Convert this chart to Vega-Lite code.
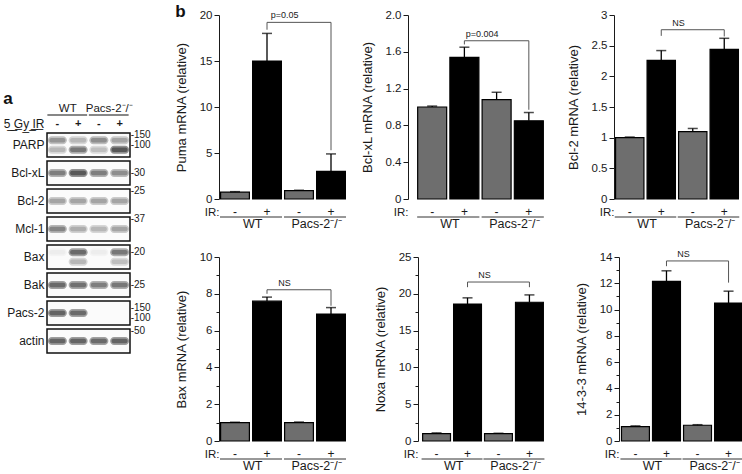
{
  "$schema": "https://vega.github.io/schema/vega-lite/v6.json",
  "padding": {"left": 3, "right": 3, "top": 3, "bottom": 3},
  "spacing": 24,
  "hconcat": [
    {
      "spacing": 0,
      "vconcat": [
        {
          "width": 60, "height": 75,
          "data": {"values": [{}]},
          "mark": {"type": "text"},
          "encoding": {"text": {"value": ""}}
        },
        {
          "width": 83, "height": 252,
          "title": {"text": "a", "anchor": "start", "frame": "bounds", "fontSize": 17, "fontWeight": "bold", "offset": -5, "color": "#111"},
          "layer": [
            {
              "data": {"values": [
                {"protein": "PARP"}, {"protein": "Bcl-xL"}, {"protein": "Bcl-2"}, {"protein": "Mcl-1"},
                {"protein": "Bax"}, {"protein": "Bak"}, {"protein": "Pacs-2"}, {"protein": "actin"}
              ]},
              "mark": {"type": "rect", "fill": "#fbfbfb", "stroke": "#111", "strokeWidth": 1.5},
              "encoding": {
                "y": {"field": "protein", "type": "nominal",
                  "scale": {"domain": ["hdr", "PARP", "Bcl-xL", "Bcl-2", "Mcl-1", "Bax", "Bak", "Pacs-2", "actin"], "paddingInner": 0.14, "paddingOuter": 0.07},
                  "axis": {"title": null, "domain": false, "ticks": false, "labelPadding": 3, "labelFontSize": 12,
                    "labelExpr": "datum.value == 'hdr' ? '5\u0332 \u0332G\u0332y\u0332 \u0332I\u0332R\u0332' : datum.value",
                    "labelOffset": {"condition": {"test": "datum.value == 'hdr'", "value": 7}, "value": 0}}}
              }
            },
            {
              "data": {"values": [
                {"protein": "PARP", "lane": "WT -", "pos": "upper", "level": 0.55},
                {"protein": "PARP", "lane": "WT +", "pos": "upper", "level": 0.35},
                {"protein": "PARP", "lane": "Pacs-2 -", "pos": "upper", "level": 0.6},
                {"protein": "PARP", "lane": "Pacs-2 +", "pos": "upper", "level": 0.45},
                {"protein": "PARP", "lane": "WT -", "pos": "lower", "level": 0.35},
                {"protein": "PARP", "lane": "WT +", "pos": "lower", "level": 0.75},
                {"protein": "PARP", "lane": "Pacs-2 -", "pos": "lower", "level": 0.3},
                {"protein": "PARP", "lane": "Pacs-2 +", "pos": "lower", "level": 1.0},
                {"protein": "Bcl-xL", "lane": "WT -", "pos": "single", "level": 0.7},
                {"protein": "Bcl-xL", "lane": "WT +", "pos": "single", "level": 1.0},
                {"protein": "Bcl-xL", "lane": "Pacs-2 -", "pos": "single", "level": 0.7},
                {"protein": "Bcl-xL", "lane": "Pacs-2 +", "pos": "single", "level": 0.6},
                {"protein": "Bcl-2", "lane": "WT -", "pos": "single", "level": 0.45},
                {"protein": "Bcl-2", "lane": "WT +", "pos": "single", "level": 0.45},
                {"protein": "Bcl-2", "lane": "Pacs-2 -", "pos": "single", "level": 0.45},
                {"protein": "Bcl-2", "lane": "Pacs-2 +", "pos": "single", "level": 0.45},
                {"protein": "Mcl-1", "lane": "WT -", "pos": "single", "level": 0.65},
                {"protein": "Mcl-1", "lane": "WT +", "pos": "single", "level": 0.4},
                {"protein": "Mcl-1", "lane": "Pacs-2 -", "pos": "single", "level": 0.35},
                {"protein": "Mcl-1", "lane": "Pacs-2 +", "pos": "single", "level": 0.45},
                {"protein": "Bax", "lane": "WT -", "pos": "upper", "level": 0.06},
                {"protein": "Bax", "lane": "WT +", "pos": "upper", "level": 0.85},
                {"protein": "Bax", "lane": "Pacs-2 -", "pos": "upper", "level": 0.06},
                {"protein": "Bax", "lane": "Pacs-2 +", "pos": "upper", "level": 0.75},
                {"protein": "Bax", "lane": "WT +", "pos": "lower", "level": 0.35},
                {"protein": "Bax", "lane": "Pacs-2 +", "pos": "lower", "level": 0.3},
                {"protein": "Bak", "lane": "WT -", "pos": "single", "level": 0.85},
                {"protein": "Bak", "lane": "WT +", "pos": "single", "level": 0.8},
                {"protein": "Bak", "lane": "Pacs-2 -", "pos": "single", "level": 0.7},
                {"protein": "Bak", "lane": "Pacs-2 +", "pos": "single", "level": 0.75},
                {"protein": "Pacs-2", "lane": "WT -", "pos": "single", "level": 0.9},
                {"protein": "Pacs-2", "lane": "WT +", "pos": "single", "level": 0.85},
                {"protein": "actin", "lane": "WT -", "pos": "single", "level": 0.9},
                {"protein": "actin", "lane": "WT +", "pos": "single", "level": 0.9},
                {"protein": "actin", "lane": "Pacs-2 -", "pos": "single", "level": 0.85},
                {"protein": "actin", "lane": "Pacs-2 +", "pos": "single", "level": 0.9}
              ]},
              "layer": [
                {
                  "mark": {"type": "rect", "width": 19, "height": 8, "cornerRadius": 4, "fill": "#111"},
                  "encoding": {
                    "x": {"field": "lane", "type": "nominal", "scale": {"domain": ["WT -", "WT +", "Pacs-2 -", "Pacs-2 +"], "paddingInner": 0, "paddingOuter": 0}, "axis": null},
                    "y": {"field": "protein", "type": "nominal"},
                    "yOffset": {"field": "pos", "type": "nominal", "scale": {"domain": ["top", "upper", "single", "lower", "bottom"], "paddingInner": 0, "paddingOuter": 0}},
                    "opacity": {"field": "level", "type": "quantitative", "scale": {"domain": [0, 1], "range": [0, 0.45]}, "legend": null}
                  }
                },
                {
                  "mark": {"type": "rect", "width": 16, "height": 4.5, "cornerRadius": 2, "fill": "#111"},
                  "encoding": {
                    "x": {"field": "lane", "type": "nominal", "axis": null},
                    "y": {"field": "protein", "type": "nominal"},
                    "yOffset": {"field": "pos", "type": "nominal"},
                    "opacity": {"field": "level", "type": "quantitative", "scale": {"domain": [0, 1], "range": [0, 1]}, "legend": null}
                  }
                }
              ]
            },
            {
              "data": {"values": [
                {"protein": "PARP", "pos": "top", "mw": "-150"},
                {"protein": "PARP", "pos": "single", "mw": "-100"},
                {"protein": "Bcl-xL", "pos": "single", "mw": "-30"},
                {"protein": "Bcl-2", "pos": "top", "mw": "-25"},
                {"protein": "Mcl-1", "pos": "top", "mw": "-37"},
                {"protein": "Bax", "pos": "upper", "mw": "-20"},
                {"protein": "Bak", "pos": "single", "mw": "-25"},
                {"protein": "Pacs-2", "pos": "upper", "mw": "-150"},
                {"protein": "Pacs-2", "pos": "lower", "mw": "-100"},
                {"protein": "actin", "pos": "top", "mw": "-50"}
              ]},
              "mark": {"type": "text", "align": "left", "dx": 11, "fontSize": 10},
              "encoding": {
                "x": {"datum": "Pacs-2 +", "type": "nominal", "axis": null},
                "y": {"field": "protein", "type": "nominal"},
                "yOffset": {"field": "pos", "type": "nominal"},
                "text": {"field": "mw"}
              }
            },
            {
              "data": {"values": [{"lane": "WT +", "label": "WT"}, {"lane": "Pacs-2 +", "label": "Pacs-2⁻/⁻"}]},
              "mark": {"type": "text", "dy": -8, "fontSize": 11.5},
              "encoding": {
                "x": {"field": "lane", "type": "nominal", "bandPosition": 0, "axis": null},
                "y": {"datum": "hdr", "type": "nominal"},
                "text": {"field": "label"}
              }
            },
            {
              "data": {"values": [{"lane": "WT -", "lane2": "WT +"}, {"lane": "Pacs-2 -", "lane2": "Pacs-2 +"}]},
              "mark": {"type": "rule", "color": "#111", "strokeWidth": 1.2, "yOffset": -2, "xOffset": -10, "x2Offset": 9},
              "encoding": {
                "x": {"field": "lane", "type": "nominal", "axis": null},
                "x2": {"field": "lane2"},
                "y": {"datum": "hdr", "type": "nominal"}
              }
            },
            {
              "data": {"values": [{"lane": "WT -", "sign": "-"}, {"lane": "WT +", "sign": "+"}, {"lane": "Pacs-2 -", "sign": "-"}, {"lane": "Pacs-2 +", "sign": "+"}]},
              "mark": {"type": "text", "dy": 7, "fontSize": 11, "fontWeight": "bold"},
              "encoding": {
                "x": {"field": "lane", "type": "nominal", "axis": null},
                "y": {"datum": "hdr", "type": "nominal"},
                "text": {"field": "sign"}
              }
            }
          ]
        }
      ]
    },
    {
      "spacing": 18,
      "vconcat": [
        {
          "spacing": 14,
          "hconcat": [
            {
              "width": 128, "height": 184,
              "title": {"text": "b", "anchor": "start", "frame": "bounds", "fontSize": 17, "fontWeight": "bold", "offset": -12, "color": "#111"},
              "resolve": {"axis": {"x": "independent", "y": "independent"}},
              "data": {"values": [
                {"cond": "WT -", "ir": "-", "value": 0.75, "upper": 0.8},
                {"cond": "WT +", "ir": "+", "value": 15.0, "upper": 18.0},
                {"cond": "Pacs-2 -", "ir": "-", "value": 0.9, "upper": 0.95},
                {"cond": "Pacs-2 +", "ir": "+", "value": 3.0, "upper": 4.9}
              ]},
              "layer": [
                {"mark": {"type": "bar", "stroke": "#000", "strokeWidth": 1.2},
                  "encoding": {
                    "x": {"field": "cond", "type": "nominal", "scale": {"domain": ["WT -", "WT +", "Pacs-2 -", "Pacs-2 +"], "paddingInner": 0.1, "paddingOuter": 0.05},
                      "axis": {"title": "IR:", "titleX": 0, "titleY": 7, "titleAlign": "right", "titleBaseline": "top", "titleFontSize": 11.5, "labelExpr": "substring(datum.value, length(datum.value) - 1)", "labelAngle": 0, "labelPadding": 7, "labelFontSize": 12, "domain": false, "ticks": false}},
                    "y": {"field": "value", "type": "quantitative", "scale": {"domain": [0, 20], "nice": false}, "axis": {"values": [0, 5, 10, 15, 20], "title": "Puma mRNA (relative)"}},
                    "color": {"field": "ir", "type": "nominal", "scale": {"domain": ["-", "+"], "range": ["#6e6e6e", "#000000"]}, "legend": null}}},
                {"mark": {"type": "rule", "color": "#000", "strokeWidth": 1.3},
                  "encoding": {"x": {"field": "cond", "type": "nominal", "axis": null}, "y": {"field": "value", "type": "quantitative", "axis": null}, "y2": {"field": "upper"}}},
                {"mark": {"type": "tick", "color": "#000", "thickness": 1.5},
                  "encoding": {"x": {"field": "cond", "type": "nominal", "axis": null}, "y": {"field": "upper", "type": "quantitative", "axis": null}, "size": {"value": 10}}},
                {"data": {"values": [{"cond": "WT +", "cond2": "Pacs-2 +", "y": 19.2}]},
                  "mark": {"type": "rule", "color": "#555", "strokeWidth": 1},
                  "encoding": {"x": {"field": "cond", "type": "nominal", "axis": null}, "x2": {"field": "cond2"}, "y": {"field": "y", "type": "quantitative", "axis": null}}},
                {"data": {"values": [{"cond": "WT +", "y": 19.2, "y2": 18.4}, {"cond": "Pacs-2 +", "y": 19.2, "y2": 5.3}]},
                  "mark": {"type": "rule", "color": "#555", "strokeWidth": 1},
                  "encoding": {"x": {"field": "cond", "type": "nominal", "axis": null}, "y": {"field": "y", "type": "quantitative", "axis": null}, "y2": {"field": "y2"}}},
                {"data": {"values": [{"cond": "Pacs-2 -", "label": "p=0.05", "y": 19.2}]},
                  "mark": {"type": "text", "baseline": "bottom", "dy": -2, "fontSize": 9},
                  "encoding": {"x": {"field": "cond", "type": "nominal", "bandPosition": 0, "axis": null}, "y": {"field": "y", "type": "quantitative", "axis": null}, "text": {"field": "label"}}},
                {"data": {"values": [{"cond": "WT -", "cond2": "WT +"}, {"cond": "Pacs-2 -", "cond2": "Pacs-2 +"}]},
                  "mark": {"type": "rule", "color": "#333", "strokeWidth": 1, "yOffset": 18, "xOffset": -15, "x2Offset": 15},
                  "encoding": {"x": {"field": "cond", "type": "nominal", "axis": null}, "x2": {"field": "cond2"}, "y": {"datum": 0, "axis": null}}},
                {"data": {"values": [{"cond": "WT +", "label": "WT"}, {"cond": "Pacs-2 +", "label": "Pacs-2⁻/⁻"}]},
                  "mark": {"type": "text", "baseline": "top", "dy": 19, "fontSize": 12.5},
                  "encoding": {"x": {"field": "cond", "type": "nominal", "bandPosition": 0, "axis": null}, "y": {"datum": 0, "axis": null}, "text": {"field": "label"}}}
              ]
            },
            {
              "width": 145, "height": 184,
              "resolve": {"axis": {"x": "independent", "y": "independent"}},
              "data": {"values": [
                {"cond": "WT -", "ir": "-", "value": 1.0, "upper": 1.01},
                {"cond": "WT +", "ir": "+", "value": 1.54, "upper": 1.65},
                {"cond": "Pacs-2 -", "ir": "-", "value": 1.08, "upper": 1.16},
                {"cond": "Pacs-2 +", "ir": "+", "value": 0.85, "upper": 0.94}
              ]},
              "layer": [
                {"mark": {"type": "bar", "stroke": "#000", "strokeWidth": 1.2},
                  "encoding": {
                    "x": {"field": "cond", "type": "nominal", "scale": {"domain": ["WT -", "WT +", "Pacs-2 -", "Pacs-2 +"], "paddingInner": 0.1, "paddingOuter": 0.3},
                      "axis": {"title": "IR:", "titleX": 0, "titleY": 7, "titleAlign": "right", "titleBaseline": "top", "titleFontSize": 11.5, "labelExpr": "substring(datum.value, length(datum.value) - 1)", "labelAngle": 0, "labelPadding": 7, "labelFontSize": 12, "domain": false, "ticks": false}},
                    "y": {"field": "value", "type": "quantitative", "scale": {"domain": [0, 2], "nice": false}, "axis": {"values": [0, 0.4, 0.8, 1.2, 1.6, 2.0], "labelExpr": "datum.value == 0 ? '0' : format(datum.value, '.1f')", "title": "Bcl-xL mRNA (relative)"}},
                    "color": {"field": "ir", "type": "nominal", "scale": {"domain": ["-", "+"], "range": ["#6e6e6e", "#000000"]}, "legend": null}}},
                {"mark": {"type": "rule", "color": "#000", "strokeWidth": 1.3},
                  "encoding": {"x": {"field": "cond", "type": "nominal", "axis": null}, "y": {"field": "value", "type": "quantitative", "axis": null}, "y2": {"field": "upper"}}},
                {"mark": {"type": "tick", "color": "#000", "thickness": 1.5},
                  "encoding": {"x": {"field": "cond", "type": "nominal", "axis": null}, "y": {"field": "upper", "type": "quantitative", "axis": null}, "size": {"value": 10}}},
                {"data": {"values": [{"cond": "WT +", "cond2": "Pacs-2 +", "y": 1.72}]},
                  "mark": {"type": "rule", "color": "#555", "strokeWidth": 1},
                  "encoding": {"x": {"field": "cond", "type": "nominal", "axis": null}, "x2": {"field": "cond2"}, "y": {"field": "y", "type": "quantitative", "axis": null}}},
                {"data": {"values": [{"cond": "WT +", "y": 1.72, "y2": 1.68}, {"cond": "Pacs-2 +", "y": 1.72, "y2": 0.97}]},
                  "mark": {"type": "rule", "color": "#555", "strokeWidth": 1},
                  "encoding": {"x": {"field": "cond", "type": "nominal", "axis": null}, "y": {"field": "y", "type": "quantitative", "axis": null}, "y2": {"field": "y2"}}},
                {"data": {"values": [{"cond": "Pacs-2 -", "label": "p=0.004", "y": 1.72}]},
                  "mark": {"type": "text", "baseline": "bottom", "dy": -2, "fontSize": 9},
                  "encoding": {"x": {"field": "cond", "type": "nominal", "bandPosition": 0, "axis": null}, "y": {"field": "y", "type": "quantitative", "axis": null}, "text": {"field": "label"}}},
                {"data": {"values": [{"cond": "WT -", "cond2": "WT +"}, {"cond": "Pacs-2 -", "cond2": "Pacs-2 +"}]},
                  "mark": {"type": "rule", "color": "#333", "strokeWidth": 1, "yOffset": 18, "xOffset": -15, "x2Offset": 15},
                  "encoding": {"x": {"field": "cond", "type": "nominal", "axis": null}, "x2": {"field": "cond2"}, "y": {"datum": 0, "axis": null}}},
                {"data": {"values": [{"cond": "WT +", "label": "WT"}, {"cond": "Pacs-2 +", "label": "Pacs-2⁻/⁻"}]},
                  "mark": {"type": "text", "baseline": "top", "dy": 19, "fontSize": 12.5},
                  "encoding": {"x": {"field": "cond", "type": "nominal", "bandPosition": 0, "axis": null}, "y": {"datum": 0, "axis": null}, "text": {"field": "label"}}}
              ]
            },
            {
              "width": 126, "height": 184,
              "resolve": {"axis": {"x": "independent", "y": "independent"}},
              "data": {"values": [
                {"cond": "WT -", "ir": "-", "value": 1.0, "upper": 1.01},
                {"cond": "WT +", "ir": "+", "value": 2.26, "upper": 2.42},
                {"cond": "Pacs-2 -", "ir": "-", "value": 1.1, "upper": 1.15},
                {"cond": "Pacs-2 +", "ir": "+", "value": 2.44, "upper": 2.62}
              ]},
              "layer": [
                {"mark": {"type": "bar", "stroke": "#000", "strokeWidth": 1.2},
                  "encoding": {
                    "x": {"field": "cond", "type": "nominal", "scale": {"domain": ["WT -", "WT +", "Pacs-2 -", "Pacs-2 +"], "paddingInner": 0.1, "paddingOuter": 0.05},
                      "axis": {"title": "IR:", "titleX": 0, "titleY": 7, "titleAlign": "right", "titleBaseline": "top", "titleFontSize": 11.5, "labelExpr": "substring(datum.value, length(datum.value) - 1)", "labelAngle": 0, "labelPadding": 7, "labelFontSize": 12, "domain": false, "ticks": false}},
                    "y": {"field": "value", "type": "quantitative", "scale": {"domain": [0, 3], "nice": false}, "axis": {"values": [0, 0.5, 1, 1.5, 2, 2.5, 3], "format": "~g", "title": "Bcl-2 mRNA (relative)"}},
                    "color": {"field": "ir", "type": "nominal", "scale": {"domain": ["-", "+"], "range": ["#6e6e6e", "#000000"]}, "legend": null}}},
                {"mark": {"type": "rule", "color": "#000", "strokeWidth": 1.3},
                  "encoding": {"x": {"field": "cond", "type": "nominal", "axis": null}, "y": {"field": "value", "type": "quantitative", "axis": null}, "y2": {"field": "upper"}}},
                {"mark": {"type": "tick", "color": "#000", "thickness": 1.5},
                  "encoding": {"x": {"field": "cond", "type": "nominal", "axis": null}, "y": {"field": "upper", "type": "quantitative", "axis": null}, "size": {"value": 10}}},
                {"data": {"values": [{"cond": "WT +", "cond2": "Pacs-2 +", "y": 2.76}]},
                  "mark": {"type": "rule", "color": "#555", "strokeWidth": 1},
                  "encoding": {"x": {"field": "cond", "type": "nominal", "axis": null}, "x2": {"field": "cond2"}, "y": {"field": "y", "type": "quantitative", "axis": null}}},
                {"data": {"values": [{"cond": "WT +", "y": 2.76, "y2": 2.66}, {"cond": "Pacs-2 +", "y": 2.76, "y2": 2.65}]},
                  "mark": {"type": "rule", "color": "#555", "strokeWidth": 1},
                  "encoding": {"x": {"field": "cond", "type": "nominal", "axis": null}, "y": {"field": "y", "type": "quantitative", "axis": null}, "y2": {"field": "y2"}}},
                {"data": {"values": [{"cond": "Pacs-2 -", "label": "NS", "y": 2.76}]},
                  "mark": {"type": "text", "baseline": "bottom", "dy": -2, "fontSize": 9},
                  "encoding": {"x": {"field": "cond", "type": "nominal", "bandPosition": 0, "axis": null}, "y": {"field": "y", "type": "quantitative", "axis": null}, "text": {"field": "label"}}},
                {"data": {"values": [{"cond": "WT -", "cond2": "WT +"}, {"cond": "Pacs-2 -", "cond2": "Pacs-2 +"}]},
                  "mark": {"type": "rule", "color": "#333", "strokeWidth": 1, "yOffset": 18, "xOffset": -15, "x2Offset": 15},
                  "encoding": {"x": {"field": "cond", "type": "nominal", "axis": null}, "x2": {"field": "cond2"}, "y": {"datum": 0, "axis": null}}},
                {"data": {"values": [{"cond": "WT +", "label": "WT"}, {"cond": "Pacs-2 +", "label": "Pacs-2⁻/⁻"}]},
                  "mark": {"type": "text", "baseline": "top", "dy": 19, "fontSize": 12.5},
                  "encoding": {"x": {"field": "cond", "type": "nominal", "bandPosition": 0, "axis": null}, "y": {"datum": 0, "axis": null}, "text": {"field": "label"}}}
              ]
            }
          ]
        },
        {
          "spacing": 27,
          "hconcat": [
            {
              "width": 128, "height": 184,
              "resolve": {"axis": {"x": "independent", "y": "independent"}},
              "data": {"values": [
                {"cond": "WT -", "ir": "-", "value": 1.0, "upper": 1.02},
                {"cond": "WT +", "ir": "+", "value": 7.6, "upper": 7.82},
                {"cond": "Pacs-2 -", "ir": "-", "value": 1.0, "upper": 1.03},
                {"cond": "Pacs-2 +", "ir": "+", "value": 6.9, "upper": 7.25}
              ]},
              "layer": [
                {"mark": {"type": "bar", "stroke": "#000", "strokeWidth": 1.2},
                  "encoding": {
                    "x": {"field": "cond", "type": "nominal", "scale": {"domain": ["WT -", "WT +", "Pacs-2 -", "Pacs-2 +"], "paddingInner": 0.1, "paddingOuter": 0.05},
                      "axis": {"title": "IR:", "titleX": 0, "titleY": 7, "titleAlign": "right", "titleBaseline": "top", "titleFontSize": 11.5, "labelExpr": "substring(datum.value, length(datum.value) - 1)", "labelAngle": 0, "labelPadding": 7, "labelFontSize": 12, "domain": false, "ticks": false}},
                    "y": {"field": "value", "type": "quantitative", "scale": {"domain": [0, 10], "nice": false}, "axis": {"values": [0, 2, 4, 6, 8, 10], "title": "Bax mRNA (relative)"}},
                    "color": {"field": "ir", "type": "nominal", "scale": {"domain": ["-", "+"], "range": ["#6e6e6e", "#000000"]}, "legend": null}}},
                {"mark": {"type": "tick", "opacity": 0},
                  "encoding": {"x": {"field": "cond", "type": "nominal", "axis": null}, "y": {"field": "value", "type": "quantitative", "axis": {"orient": "left", "values": [1, 3, 5, 7, 9], "labels": false, "domain": false, "tickSize": 3, "title": null}}}},
                {"mark": {"type": "rule", "color": "#000", "strokeWidth": 1.3},
                  "encoding": {"x": {"field": "cond", "type": "nominal", "axis": null}, "y": {"field": "value", "type": "quantitative", "axis": null}, "y2": {"field": "upper"}}},
                {"mark": {"type": "tick", "color": "#000", "thickness": 1.5},
                  "encoding": {"x": {"field": "cond", "type": "nominal", "axis": null}, "y": {"field": "upper", "type": "quantitative", "axis": null}, "size": {"value": 10}}},
                {"data": {"values": [{"cond": "WT +", "cond2": "Pacs-2 +", "y": 8.22}]},
                  "mark": {"type": "rule", "color": "#555", "strokeWidth": 1},
                  "encoding": {"x": {"field": "cond", "type": "nominal", "axis": null}, "x2": {"field": "cond2"}, "y": {"field": "y", "type": "quantitative", "axis": null}}},
                {"data": {"values": [{"cond": "WT +", "y": 8.22, "y2": 8.0}, {"cond": "Pacs-2 +", "y": 8.22, "y2": 7.35}]},
                  "mark": {"type": "rule", "color": "#555", "strokeWidth": 1},
                  "encoding": {"x": {"field": "cond", "type": "nominal", "axis": null}, "y": {"field": "y", "type": "quantitative", "axis": null}, "y2": {"field": "y2"}}},
                {"data": {"values": [{"cond": "Pacs-2 -", "label": "NS", "y": 8.22}]},
                  "mark": {"type": "text", "baseline": "bottom", "dy": -2, "fontSize": 9},
                  "encoding": {"x": {"field": "cond", "type": "nominal", "bandPosition": 0, "axis": null}, "y": {"field": "y", "type": "quantitative", "axis": null}, "text": {"field": "label"}}},
                {"data": {"values": [{"cond": "WT -", "cond2": "WT +"}, {"cond": "Pacs-2 -", "cond2": "Pacs-2 +"}]},
                  "mark": {"type": "rule", "color": "#333", "strokeWidth": 1, "yOffset": 18, "xOffset": -15, "x2Offset": 15},
                  "encoding": {"x": {"field": "cond", "type": "nominal", "axis": null}, "x2": {"field": "cond2"}, "y": {"datum": 0, "axis": null}}},
                {"data": {"values": [{"cond": "WT +", "label": "WT"}, {"cond": "Pacs-2 +", "label": "Pacs-2⁻/⁻"}]},
                  "mark": {"type": "text", "baseline": "top", "dy": 19, "fontSize": 12.5},
                  "encoding": {"x": {"field": "cond", "type": "nominal", "bandPosition": 0, "axis": null}, "y": {"datum": 0, "axis": null}, "text": {"field": "label"}}}
              ]
            },
            {
              "width": 130, "height": 184,
              "resolve": {"axis": {"x": "independent", "y": "independent"}},
              "data": {"values": [
                {"cond": "WT -", "ir": "-", "value": 1.0, "upper": 1.1},
                {"cond": "WT +", "ir": "+", "value": 18.6, "upper": 19.45},
                {"cond": "Pacs-2 -", "ir": "-", "value": 1.0, "upper": 1.05},
                {"cond": "Pacs-2 +", "ir": "+", "value": 18.85, "upper": 19.85}
              ]},
              "layer": [
                {"mark": {"type": "bar", "stroke": "#000", "strokeWidth": 1.2},
                  "encoding": {
                    "x": {"field": "cond", "type": "nominal", "scale": {"domain": ["WT -", "WT +", "Pacs-2 -", "Pacs-2 +"], "paddingInner": 0.1, "paddingOuter": 0.15},
                      "axis": {"title": "IR:", "titleX": 0, "titleY": 7, "titleAlign": "right", "titleBaseline": "top", "titleFontSize": 11.5, "labelExpr": "substring(datum.value, length(datum.value) - 1)", "labelAngle": 0, "labelPadding": 7, "labelFontSize": 12, "domain": false, "ticks": false}},
                    "y": {"field": "value", "type": "quantitative", "scale": {"domain": [0, 25], "nice": false}, "axis": {"values": [0, 5, 10, 15, 20, 25], "title": "Noxa mRNA (relative)"}},
                    "color": {"field": "ir", "type": "nominal", "scale": {"domain": ["-", "+"], "range": ["#6e6e6e", "#000000"]}, "legend": null}}},
                {"mark": {"type": "tick", "opacity": 0},
                  "encoding": {"x": {"field": "cond", "type": "nominal", "axis": null}, "y": {"field": "value", "type": "quantitative", "axis": {"orient": "left", "values": [2.5, 7.5, 12.5, 17.5, 22.5], "labels": false, "domain": false, "tickSize": 3, "title": null}}}},
                {"mark": {"type": "rule", "color": "#000", "strokeWidth": 1.3},
                  "encoding": {"x": {"field": "cond", "type": "nominal", "axis": null}, "y": {"field": "value", "type": "quantitative", "axis": null}, "y2": {"field": "upper"}}},
                {"mark": {"type": "tick", "color": "#000", "thickness": 1.5},
                  "encoding": {"x": {"field": "cond", "type": "nominal", "axis": null}, "y": {"field": "upper", "type": "quantitative", "axis": null}, "size": {"value": 10}}},
                {"data": {"values": [{"cond": "WT +", "cond2": "Pacs-2 +", "y": 21.6}]},
                  "mark": {"type": "rule", "color": "#555", "strokeWidth": 1},
                  "encoding": {"x": {"field": "cond", "type": "nominal", "axis": null}, "x2": {"field": "cond2"}, "y": {"field": "y", "type": "quantitative", "axis": null}}},
                {"data": {"values": [{"cond": "WT +", "y": 21.6, "y2": 20.9}, {"cond": "Pacs-2 +", "y": 21.6, "y2": 20.9}]},
                  "mark": {"type": "rule", "color": "#555", "strokeWidth": 1},
                  "encoding": {"x": {"field": "cond", "type": "nominal", "axis": null}, "y": {"field": "y", "type": "quantitative", "axis": null}, "y2": {"field": "y2"}}},
                {"data": {"values": [{"cond": "Pacs-2 -", "label": "NS", "y": 21.6}]},
                  "mark": {"type": "text", "baseline": "bottom", "dy": -2, "fontSize": 9},
                  "encoding": {"x": {"field": "cond", "type": "nominal", "bandPosition": 0, "axis": null}, "y": {"field": "y", "type": "quantitative", "axis": null}, "text": {"field": "label"}}},
                {"data": {"values": [{"cond": "WT -", "cond2": "WT +"}, {"cond": "Pacs-2 -", "cond2": "Pacs-2 +"}]},
                  "mark": {"type": "rule", "color": "#333", "strokeWidth": 1, "yOffset": 18, "xOffset": -15, "x2Offset": 15},
                  "encoding": {"x": {"field": "cond", "type": "nominal", "axis": null}, "x2": {"field": "cond2"}, "y": {"datum": 0, "axis": null}}},
                {"data": {"values": [{"cond": "WT +", "label": "WT"}, {"cond": "Pacs-2 +", "label": "Pacs-2⁻/⁻"}]},
                  "mark": {"type": "text", "baseline": "top", "dy": 19, "fontSize": 12.5},
                  "encoding": {"x": {"field": "cond", "type": "nominal", "bandPosition": 0, "axis": null}, "y": {"datum": 0, "axis": null}, "text": {"field": "label"}}}
              ]
            },
            {
              "width": 126, "height": 184,
              "resolve": {"axis": {"x": "independent", "y": "independent"}},
              "data": {"values": [
                {"cond": "WT -", "ir": "-", "value": 1.1, "upper": 1.15},
                {"cond": "WT +", "ir": "+", "value": 12.15, "upper": 12.95},
                {"cond": "Pacs-2 -", "ir": "-", "value": 1.2, "upper": 1.24},
                {"cond": "Pacs-2 +", "ir": "+", "value": 10.5, "upper": 11.4}
              ]},
              "layer": [
                {"mark": {"type": "bar", "stroke": "#000", "strokeWidth": 1.2},
                  "encoding": {
                    "x": {"field": "cond", "type": "nominal", "scale": {"domain": ["WT -", "WT +", "Pacs-2 -", "Pacs-2 +"], "paddingInner": 0.1, "paddingOuter": 0.08},
                      "axis": {"title": "IR:", "titleX": 0, "titleY": 7, "titleAlign": "right", "titleBaseline": "top", "titleFontSize": 11.5, "labelExpr": "substring(datum.value, length(datum.value) - 1)", "labelAngle": 0, "labelPadding": 7, "labelFontSize": 12, "domain": false, "ticks": false}},
                    "y": {"field": "value", "type": "quantitative", "scale": {"domain": [0, 14], "nice": false}, "axis": {"values": [0, 2, 4, 6, 8, 10, 12, 14], "title": "14-3-3 mRNA (relative)"}},
                    "color": {"field": "ir", "type": "nominal", "scale": {"domain": ["-", "+"], "range": ["#6e6e6e", "#000000"]}, "legend": null}}},
                {"mark": {"type": "tick", "opacity": 0},
                  "encoding": {"x": {"field": "cond", "type": "nominal", "axis": null}, "y": {"field": "value", "type": "quantitative", "axis": {"orient": "left", "values": [1, 3, 5, 7, 9, 11, 13], "labels": false, "domain": false, "tickSize": 3, "title": null}}}},
                {"mark": {"type": "rule", "color": "#000", "strokeWidth": 1.3},
                  "encoding": {"x": {"field": "cond", "type": "nominal", "axis": null}, "y": {"field": "value", "type": "quantitative", "axis": null}, "y2": {"field": "upper"}}},
                {"mark": {"type": "tick", "color": "#000", "thickness": 1.5},
                  "encoding": {"x": {"field": "cond", "type": "nominal", "axis": null}, "y": {"field": "upper", "type": "quantitative", "axis": null}, "size": {"value": 10}}},
                {"data": {"values": [{"cond": "WT +", "cond2": "Pacs-2 +", "y": 13.7}]},
                  "mark": {"type": "rule", "color": "#555", "strokeWidth": 1},
                  "encoding": {"x": {"field": "cond", "type": "nominal", "axis": null}, "x2": {"field": "cond2"}, "y": {"field": "y", "type": "quantitative", "axis": null}}},
                {"data": {"values": [{"cond": "WT +", "y": 13.7, "y2": 13.3}, {"cond": "Pacs-2 +", "y": 13.7, "y2": 12.05}]},
                  "mark": {"type": "rule", "color": "#555", "strokeWidth": 1},
                  "encoding": {"x": {"field": "cond", "type": "nominal", "axis": null}, "y": {"field": "y", "type": "quantitative", "axis": null}, "y2": {"field": "y2"}}},
                {"data": {"values": [{"cond": "Pacs-2 -", "label": "NS", "y": 13.7}]},
                  "mark": {"type": "text", "baseline": "bottom", "dy": -2, "fontSize": 9},
                  "encoding": {"x": {"field": "cond", "type": "nominal", "bandPosition": 0, "axis": null}, "y": {"field": "y", "type": "quantitative", "axis": null}, "text": {"field": "label"}}},
                {"data": {"values": [{"cond": "WT -", "cond2": "WT +"}, {"cond": "Pacs-2 -", "cond2": "Pacs-2 +"}]},
                  "mark": {"type": "rule", "color": "#333", "strokeWidth": 1, "yOffset": 18, "xOffset": -15, "x2Offset": 15},
                  "encoding": {"x": {"field": "cond", "type": "nominal", "axis": null}, "x2": {"field": "cond2"}, "y": {"datum": 0, "axis": null}}},
                {"data": {"values": [{"cond": "WT +", "label": "WT"}, {"cond": "Pacs-2 +", "label": "Pacs-2⁻/⁻"}]},
                  "mark": {"type": "text", "baseline": "top", "dy": 19, "fontSize": 12.5},
                  "encoding": {"x": {"field": "cond", "type": "nominal", "bandPosition": 0, "axis": null}, "y": {"datum": 0, "axis": null}, "text": {"field": "label"}}}
              ]
            }
          ]
        }
      ]
    }
  ],
  "config": {
    "view": {"stroke": null},
    "font": "Liberation Sans",
    "title": {"font": "Liberation Sans"},
    "axis": {"labelFont": "Liberation Sans", "titleFont": "Liberation Sans", "labelColor": "#1a1a1a", "titleColor": "#1a1a1a", "domainColor": "#1a1a1a", "tickColor": "#1a1a1a", "grid": false, "labelFontSize": 11.5, "titleFontSize": 13, "titleFontWeight": "normal", "tickSize": 5, "labelPadding": 2, "titlePadding": 11},
    "text": {"font": "Liberation Sans", "color": "#1a1a1a"}
  }
}
